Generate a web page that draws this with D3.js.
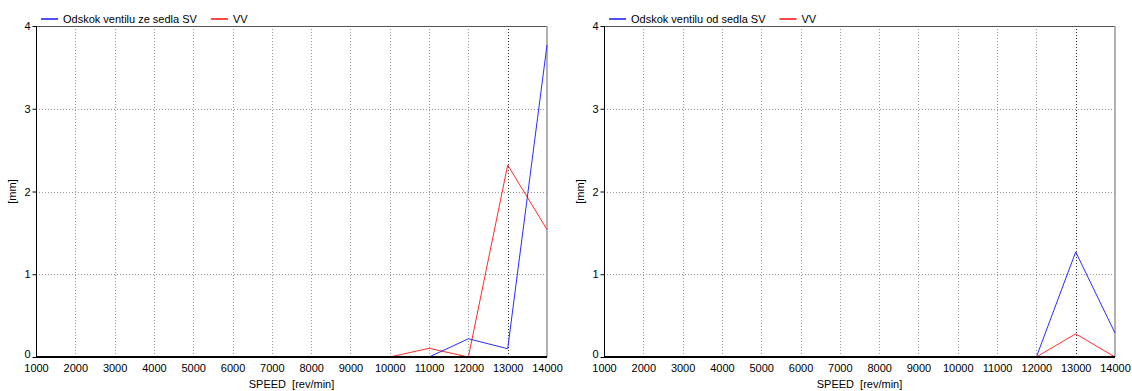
<!DOCTYPE html>
<html>
<head>
<meta charset="utf-8">
<script src="https://cdn.jsdelivr.net/npm/d3@7/dist/d3.min.js"></script>
<style>
  html, body { margin: 0; padding: 0; background: #fff; }
  svg { display: block; }
  text { font-family: "Liberation Sans", Arial, sans-serif; fill: #000; }
</style>
</head>
<body>
<svg id="chart" width="1132" height="391"></svg>
<script>
// ---- data ----
const speeds = [1000, 2000, 3000, 4000, 5000, 6000, 7000, 8000, 9000, 10000, 11000, 12000, 13000, 14000];
const yTicks = [0, 1, 2, 3, 4];

const leftSV  = [null, null, null, null, null, null, null, null, null, null, 0, 0.22, 0.10, 3.77];
const leftVV  = [null, null, null, null, null, null, null, null, null, 0, 0.105, 0, 2.32, 1.54];
const rightSV = [null, null, null, null, null, null, null, null, null, null, null, 0, 1.27, 0.29];
const rightVV = [null, null, null, null, null, null, null, null, null, null, null, 0, 0.28, 0];

const leftLegend  = ["Odskok ventilu ze sedla SV", "VV"];
const rightLegend = ["Odskok ventilu od sedla SV", "VV"];
const xTitle = "SPEED  [rev/min]";
const yTitle = "[mm]";

const colors = { sv: "#2a2aff", vv: "#ff2a2a" };
const legendColors = { sv: "#5050ff", vv: "#ff4848" };

const svg = d3.select("#chart");

function panel(x0, x1, sv, vv, legend) {
  const top = 26, bottom = 357;
  const x = d3.scaleLinear().domain([1000, 14000]).range([x0, x1]);
  const y = d3.scaleLinear().domain([0, 4]).range([bottom, top]);
  const g = svg.append("g");

  // grid
  g.append("g").selectAll("line").data(speeds.slice(1, -1)).join("line")
    .attr("x1", d => Math.round(x(d)) + 0.5).attr("x2", d => Math.round(x(d)) + 0.5)
    .attr("y1", top).attr("y2", bottom)
    .attr("stroke", d => d === 13000 ? "#333" : "#999").attr("stroke-width", 1)
    .attr("stroke-dasharray", "1,2");
  g.append("g").selectAll("line").data(yTicks.slice(1, -1)).join("line")
    .attr("x1", x0).attr("x2", x1)
    .attr("y1", d => Math.round(y(d)) + 0.5).attr("y2", d => Math.round(y(d)) + 0.5)
    .attr("stroke", "#999").attr("stroke-width", 1)
    .attr("stroke-dasharray", "1,2");

  // frame (top / right)
  g.append("line").attr("x1", x0).attr("x2", x1).attr("y1", top + 0.5).attr("y2", top + 0.5)
    .attr("stroke", "#555").attr("stroke-width", 1);
  g.append("line").attr("x1", x1).attr("x2", x1).attr("y1", top).attr("y2", bottom)
    .attr("stroke", "#999").attr("stroke-width", 1.5);

  // data lines
  const line = d3.line()
    .defined(d => d.v != null)
    .x(d => x(d.s)).y(d => y(d.v));
  const mk = arr => speeds.map((s, i) => ({ s: s, v: arr[i] }));
  g.append("path").datum(mk(vv)).attr("d", line)
    .attr("fill", "none").attr("stroke", colors.vv).attr("stroke-width", 1);
  g.append("path").datum(mk(sv)).attr("d", line)
    .attr("fill", "none").attr("stroke", colors.sv).attr("stroke-width", 1);

  // y axis
  const ya = d3.axisLeft(y).tickValues(yTicks).tickSize(4).tickPadding(2).tickFormat(d3.format("d"));
  const yg = g.append("g").attr("transform", `translate(${x0 + 0.5},0)`).call(ya);
  yg.select(".domain").attr("stroke", "#000").attr("d", `M0,${top}V${bottom}`);
  yg.selectAll(".tick line").attr("stroke", "#000");
  yg.selectAll(".tick text").attr("font-size", 11).attr("font-family", "Liberation Sans, Arial, sans-serif")
    .attr("dy", d => d === 0 ? "0.05em" : "0.32em");

  // x axis
  const xa = d3.axisBottom(x).tickValues(speeds).tickSize(0).tickPadding(7).tickFormat(d3.format("d"));
  const xg = g.append("g").attr("transform", `translate(0,${bottom})`).call(xa);
  xg.select(".domain").attr("stroke", "#000").attr("stroke-width", 2).attr("d", `M${x0},0H${x1}`);
  xg.selectAll(".tick text").attr("font-size", 11).attr("font-family", "Liberation Sans, Arial, sans-serif");

  // titles
  g.append("text").attr("x", (x0 + x1) / 2).attr("y", 388).attr("text-anchor", "middle")
    .attr("font-size", 11).attr("xml:space", "preserve").style("white-space", "pre").text(xTitle);
  g.append("text").attr("transform", `translate(${x0 - 20},${(top + bottom) / 2}) rotate(-90)`)
    .attr("text-anchor", "middle").attr("font-size", 11).text(yTitle);

  // legend
  const lg = g.append("g");
  let lx = x0 + 5;
  const ly = 19;
  lg.append("line").attr("x1", lx).attr("x2", lx + 17).attr("y1", ly).attr("y2", ly)
    .attr("stroke", legendColors.sv).attr("stroke-width", 2);
  const t1 = lg.append("text").attr("x", lx + 22).attr("y", ly + 4).attr("font-size", 11).text(legend[0]);
  const w1 = t1.node().getComputedTextLength();
  lx = lx + 22 + w1 + 14;
  lg.append("line").attr("x1", lx).attr("x2", lx + 17).attr("y1", ly).attr("y2", ly)
    .attr("stroke", legendColors.vv).attr("stroke-width", 2);
  lg.append("text").attr("x", lx + 22).attr("y", ly + 4).attr("font-size", 11).text(legend[1]);
}

panel(36, 547, leftSV, leftVV, leftLegend);
panel(604, 1115, rightSV, rightVV, rightLegend);
</script>
</body>
</html>
